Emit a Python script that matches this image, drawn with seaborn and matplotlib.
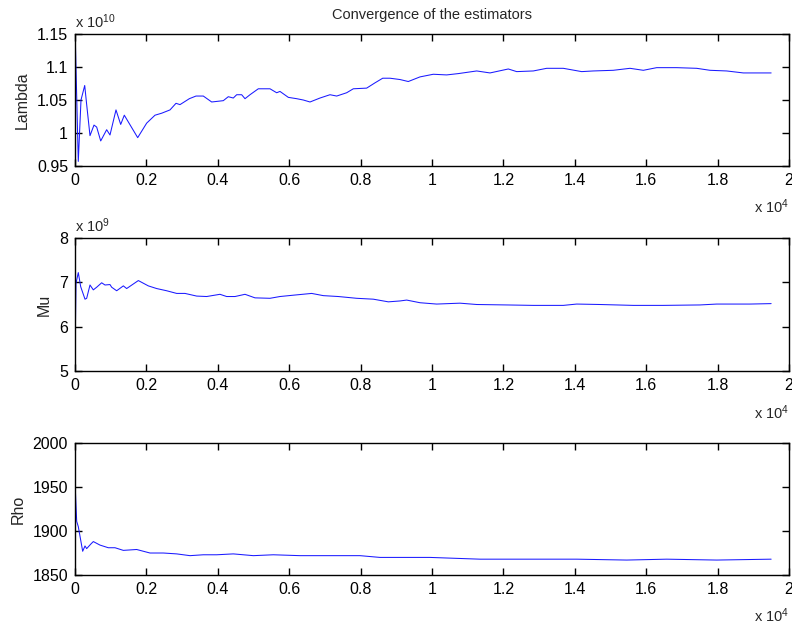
import numpy as np
import matplotlib
matplotlib.use("Agg")
import matplotlib.pyplot as plt
import seaborn as sns

# values (lambda in units of 1e10, mu in units of 1e9)
lam_x = [0, 92, 168, 272, 327, 420, 532, 607, 720, 887, 980, 1148, 1280, 1381, 1756,
         2008, 2241, 2428, 2661, 2829, 2941, 3203, 3389, 3594, 3829, 4154, 4294, 4434,
         4529, 4669, 4762, 4902, 5135, 5462, 5649, 5742, 5976, 6209, 6395, 6583, 6863,
         7143, 7330, 7610, 7796, 8170, 8403, 8619, 8824, 9104, 9336, 9664, 10036, 10410,
         10737, 11252, 11625, 12138, 12372, 12838, 13212, 13678, 14193, 14518, 15078,
         15546, 15920, 16294, 16854, 17415, 17787, 18255, 18721, 19095, 19500]
lam_y = [1.16, 0.957, 1.050, 1.072, 1.043, 0.996, 1.012, 1.009, 0.988, 1.005, 0.997, 1.035,
         1.013, 1.027, 0.993, 1.015, 1.027, 1.030, 1.035, 1.045, 1.043, 1.052, 1.056, 1.056,
         1.047, 1.049, 1.055, 1.053, 1.058, 1.058, 1.052, 1.058, 1.067, 1.067, 1.061, 1.063,
         1.054, 1.052, 1.050, 1.047, 1.053, 1.058, 1.056, 1.061, 1.067, 1.068, 1.076, 1.083,
         1.083, 1.081, 1.078, 1.085, 1.089, 1.088, 1.090, 1.094, 1.091, 1.097, 1.093, 1.094,
         1.098, 1.098, 1.093, 1.094, 1.095, 1.098, 1.095, 1.099, 1.099, 1.098, 1.095, 1.094,
         1.091, 1.091, 1.091]

mu_x = [0, 28, 92, 160, 280, 327, 420, 513, 607, 747, 840, 980, 1027, 1167, 1354, 1447,
        1774, 2054, 2287, 2568, 2848, 3081, 3408, 3688, 4061, 4248, 4482, 4762, 5042, 5462,
        5742, 6115, 6629, 6956, 7376, 7890, 8357, 8777, 9104, 9290, 9664, 10130, 10784,
        11252, 12092, 12838, 13678, 14053, 14706, 15640, 16480, 17507, 17974, 18907, 19500]
mu_y = [5.32, 6.98, 7.22, 6.90, 6.62, 6.64, 6.94, 6.83, 6.89, 6.99, 6.94, 6.95, 6.89, 6.81,
        6.92, 6.86, 7.04, 6.92, 6.86, 6.81, 6.75, 6.75, 6.69, 6.68, 6.73, 6.68, 6.68, 6.73,
        6.65, 6.64, 6.68, 6.71, 6.75, 6.70, 6.68, 6.64, 6.62, 6.56, 6.58, 6.60, 6.54, 6.51,
        6.53, 6.50, 6.49, 6.48, 6.48, 6.51, 6.50, 6.48, 6.48, 6.49, 6.51, 6.51, 6.52]

rho_x = [0, 5, 47, 92, 215, 280, 327, 439, 513, 700, 933, 1120, 1354, 1727, 2101, 2475,
         2848, 3221, 3594, 3969, 4434, 4995, 5555, 6303, 6769, 7236, 7983, 8543, 9104, 9944,
         11345, 12838, 14053, 15453, 16574, 17974, 19500]
rho_y = [1854, 1951, 1911, 1905, 1877, 1883, 1880, 1885, 1888, 1884, 1881, 1881, 1878, 1879,
         1875, 1875, 1874, 1872, 1873, 1873, 1874, 1872, 1873, 1872, 1872, 1872, 1872, 1870,
         1870, 1870, 1868, 1868, 1868, 1867, 1868, 1867, 1868]

names = ["Lambda", "Mu", "Rho"]
ylims = [(0.95, 1.15), (5, 8), (1850, 2000)]
yticks = [[0.95, 1.0, 1.05, 1.1, 1.15], [5, 6, 7, 8], [1850, 1900, 1950, 2000]]
ymult = [r"x 10$^{10}$", r"x 10$^{9}$", None]
xticks = list(range(0, 20001, 2000))

sns.set_style("ticks")
plt.rcParams["font.family"] = ["Liberation Sans", "DejaVu Sans"]
plt.rcParams["mathtext.default"] = "regular"

fig = plt.figure(figsize=(7.92, 6.27), dpi=100)
# axes boxes in figure fractions
boxes = [[0.0947, 0.7352, 0.9015, 0.2106],
         [0.0947, 0.4083, 0.9015, 0.2121],
         [0.0947, 0.0829, 0.9015, 0.2106]]
series = [(lam_x, lam_y), (mu_x, mu_y), (rho_x, rho_y)]

for i in range(3):
    ax = fig.add_axes(boxes[i])
    sx, sy = series[i]
    sns.lineplot(x=sx, y=sy, ax=ax, color="#1a1aff", lw=0.75, estimator=None, sort=False)
    ax.set_xlim(0, 20000)
    ax.set_ylim(*ylims[i])
    ax.set_xticks(xticks)
    ax.set_xticklabels([f"{v / 1e4:g}" for v in xticks])
    ax.set_yticks(yticks[i])
    ax.set_yticklabels([f"{v:g}" for v in yticks[i]])
    ax.tick_params(direction="in", top=True, right=True, length=5, width=1,
                   labelsize=11.5, colors="black", pad=5)
    for sp in ax.spines.values():
        sp.set_visible(True)
        sp.set_linewidth(1)
        sp.set_color("black")
    ax.set_ylabel(names[i], fontsize=11.5, labelpad=5)
    ax.text(1.0, -0.31, r"x 10$^{4}$", transform=ax.transAxes, ha="right", va="center",
            fontsize=10.5)
    if ymult[i]:
        ax.text(0.0, 1.02, ymult[i], transform=ax.transAxes, ha="left", va="bottom",
                fontsize=10.5)
    if i == 0:
        ax.set_title("Convergence of the estimators", fontsize=10.5, pad=11)

fig.savefig("out.png", dpi=100)
